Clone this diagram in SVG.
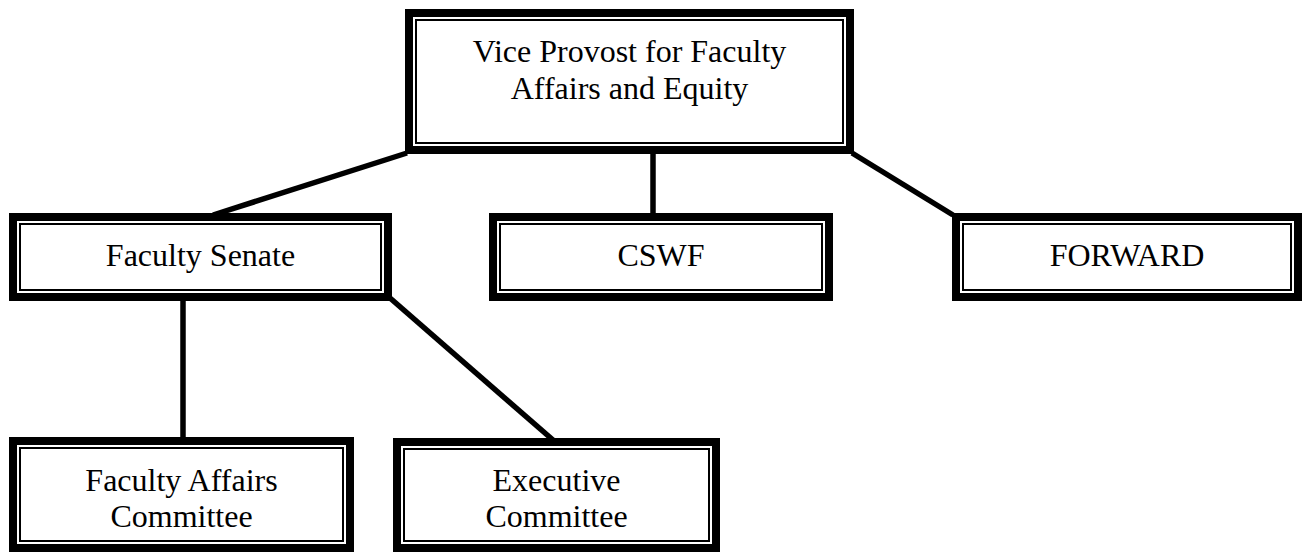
<svg xmlns="http://www.w3.org/2000/svg" width="1304" height="552" viewBox="0 0 1304 552">
  <style>
    .outer { fill: #000; }
    .gap { fill: #fff; }
    .thin { fill: #000; }
    .inner { fill: #fff; }
    .label { font-family: "Liberation Serif", "Times New Roman", serif; font-size: 32px; fill: #000; text-anchor: middle; }
    .edge { stroke: #000; stroke-width: 5.5; fill: none; }
  </style>
  <rect width="1304" height="552" fill="#fff"/>

  <g id="connectors">
    <line class="edge" x1="407" y1="153" x2="213" y2="215"/>
    <line class="edge" x1="653" y1="152" x2="653" y2="215"/>
    <line class="edge" x1="852" y1="153" x2="953" y2="215"/>
    <line class="edge" x1="183" y1="298" x2="183" y2="439"/>
    <line class="edge" x1="390" y1="298" x2="553" y2="440"/>
  </g>

  <g id="vice-provost">
    <rect class="outer" x="405" y="9" width="449" height="145"/>
    <rect class="gap" x="413" y="17" width="433" height="129"/>
    <rect class="thin" x="415" y="19" width="429" height="125"/>
    <rect class="inner" x="417" y="21" width="425" height="121"/>
    <text class="label" x="629.5" y="62">Vice Provost for Faculty</text>
    <text class="label" x="629.5" y="99">Affairs and Equity</text>
  </g>

  <g id="faculty-senate">
    <rect class="outer" x="9" y="213" width="383" height="88"/>
    <rect class="gap" x="17" y="221" width="367" height="72"/>
    <rect class="thin" x="19" y="223" width="363" height="68"/>
    <rect class="inner" x="21" y="225" width="359" height="64"/>
    <text class="label" x="200.5" y="266">Faculty Senate</text>
  </g>

  <g id="cswf">
    <rect class="outer" x="489" y="213" width="344" height="88"/>
    <rect class="gap" x="497" y="221" width="328" height="72"/>
    <rect class="thin" x="499" y="223" width="324" height="68"/>
    <rect class="inner" x="501" y="225" width="320" height="64"/>
    <text class="label" x="661" y="266">CSWF</text>
  </g>

  <g id="forward">
    <rect class="outer" x="952" y="213" width="350" height="88"/>
    <rect class="gap" x="960" y="221" width="334" height="72"/>
    <rect class="thin" x="962" y="223" width="330" height="68"/>
    <rect class="inner" x="964" y="225" width="326" height="64"/>
    <text class="label" x="1127" y="266">FORWARD</text>
  </g>

  <g id="faculty-affairs-committee">
    <rect class="outer" x="9" y="437" width="345" height="115"/>
    <rect class="gap" x="17" y="445" width="329" height="99"/>
    <rect class="thin" x="19" y="447" width="325" height="95"/>
    <rect class="inner" x="21" y="449" width="321" height="91"/>
    <text class="label" x="181.5" y="491">Faculty Affairs</text>
    <text class="label" x="181.5" y="527">Committee</text>
  </g>

  <g id="executive-committee">
    <rect class="outer" x="393" y="438" width="327" height="114"/>
    <rect class="gap" x="401" y="446" width="311" height="98"/>
    <rect class="thin" x="403" y="448" width="307" height="94"/>
    <rect class="inner" x="405" y="450" width="303" height="90"/>
    <text class="label" x="556.5" y="491">Executive</text>
    <text class="label" x="556.5" y="527">Committee</text>
  </g>
</svg>
